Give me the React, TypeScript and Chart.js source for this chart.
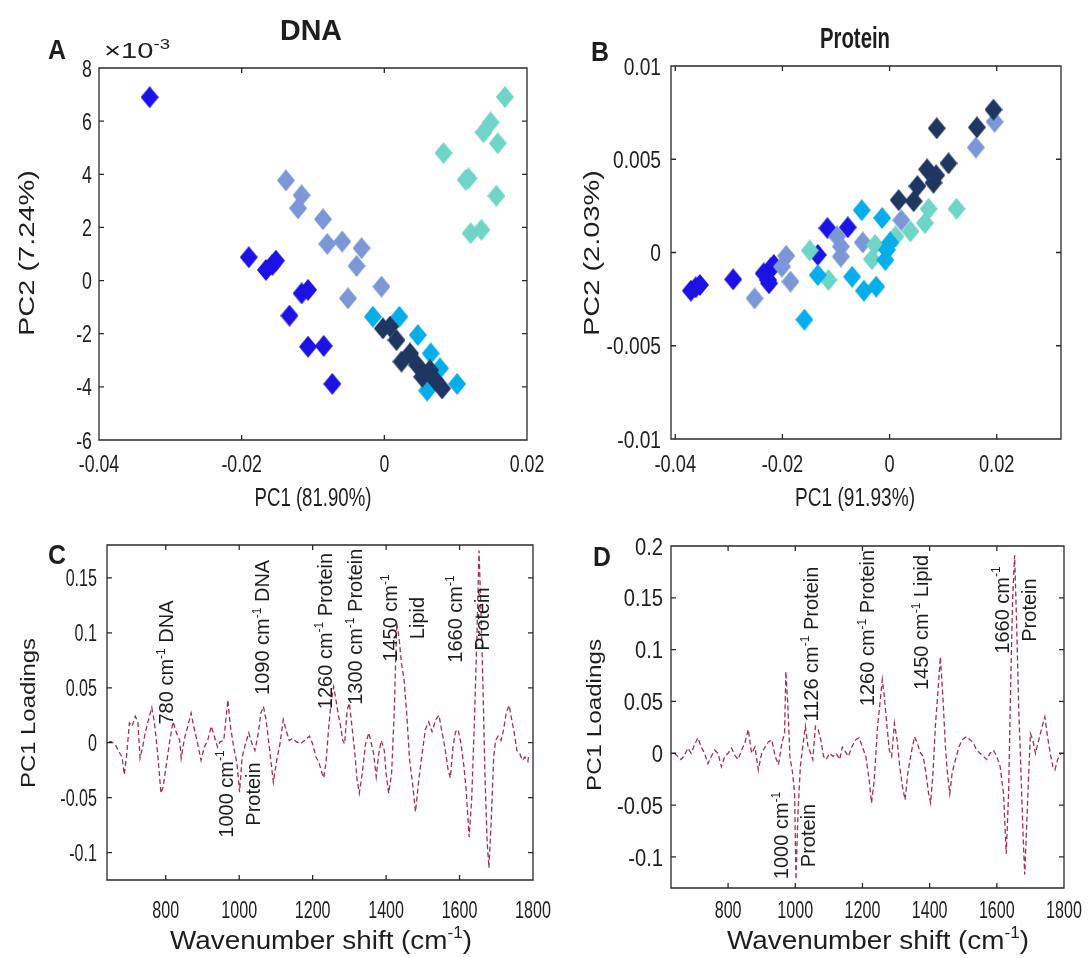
import React, { useEffect, useRef } from "react";
import { Chart, registerables } from "chart.js";

Chart.register(...registerables);

// ---------------- DATA ----------------
// Panel A (DNA): PCA scores [PC1, PC2 (x1e-3)]
const dnaBlue: [number, number][] = [
  [-0.0329, 6.9], [-0.019, 0.88], [-0.0166, 0.4], [-0.0157, 0.59], [-0.0152, 0.75],
  [-0.0116, -0.48], [-0.0107, -0.35], [-0.0133, -1.32], [-0.0107, -2.49], [-0.0085, -2.46], [-0.0073, -3.89],
];
const dnaSlate: [number, number][] = [
  [-0.0138, 3.77], [-0.0116, 3.21], [-0.0121, 2.72], [-0.0086, 2.31], [-0.008, 1.38],
  [-0.0059, 1.47], [-0.0032, 1.22], [-0.0039, 0.55], [-0.0051, -0.67], [-0.0004, -0.23],
];
const dnaAqua: [number, number][] = [
  [0.0169, 6.91], [0.0149, 5.95], [0.0139, 5.58], [0.0159, 5.17], [0.0083, 4.8],
  [0.0118, 3.85], [0.0114, 3.79], [0.0157, 3.19], [0.0121, 1.78], [0.0136, 1.91],
];
const dnaSky: [number, number][] = [
  [-0.0016, -1.36], [0.0021, -1.36], [0.0047, -2.05], [0.0065, -2.74], [0.0078, -3.3],
  [0.0102, -3.89], [0.006, -4.14],
];
const dnaNavy: [number, number][] = [
  [-0.0002, -1.8], [0.0008, -1.73], [0.0017, -2.24], [0.0024, -3.05], [0.0036, -2.74],
  [0.0046, -3.18], [0.0053, -3.62], [0.0064, -3.37], [0.0071, -3.74], [0.0081, -4.06],
];

// Panel B (Protein): PCA scores [PC1, PC2]
const protBlue: [number, number][] = [
  [-0.0371, -0.00205], [-0.0362, -0.00187], [-0.0354, -0.00174], [-0.0292, -0.00144], [-0.0235, -0.00112],
  [-0.0227, -0.00147], [-0.0222, -0.00085], [-0.0216, -0.00067], [-0.0225, -0.00165], [-0.0116, 0.00131],
  [-0.0078, 0.00135], [-0.0134, -0.00013],
];
const protSlate: [number, number][] = [
  [-0.0252, -0.00246], [-0.0193, -0.00018], [-0.0201, -0.00076], [-0.0185, -0.00156], [-0.0098, 0.00086],
  [-0.0091, 0.00032], [-0.0091, -0.00022], [-0.005, 0.00054], [0.0022, 0.00173], [0.0161, 0.00563], [0.0196, 0.00701],
];
const protAqua: [number, number][] = [
  [-0.0149, 0.00011], [-0.0114, -0.00147], [-0.0033, -0.00036], [-0.0027, 0.00041], [0.0011, 0.00086],
  [0.0039, 0.00113], [0.0066, 0.00158], [0.0073, 0.00234], [0.0125, 0.00234],
];
const protSky: [number, number][] = [
  [-0.0134, -0.00121], [-0.0159, -0.0036], [-0.007, -0.0013], [-0.0048, -0.00205], [-0.0025, -0.00183],
  [-0.0052, 0.00227], [-0.0014, 0.00185], [-0.0008, -0.0004], [-0.0005, 0.00014], [0.0001, 0.00054],
];
const protNavy: [number, number][] = [
  [0.0017, 0.00281], [0.0045, 0.00275], [0.0052, 0.00356], [0.007, 0.00446], [0.0082, 0.00374],
  [0.0087, 0.00414], [0.0088, 0.00666], [0.011, 0.00478], [0.0163, 0.00671], [0.0194, 0.00766],
];

// Panel C (DNA): PC1 loadings [wavenumber, loading]
const dnaLoadings: [number, number][] = [
  [645, 0.001], [652, 0.001], [663, -0.002], [672, -0.008], [681, -0.013], [687, -0.029], [694, -0.01],
  [701, 0.018], [708, 0.015], [717, 0.024], [724, 0.019], [730, -0.014], [737, -0.004], [744, 0.009],
  [753, 0.021], [762, 0.032], [769, 0.019], [778, -0.01], [787, -0.046], [793, -0.04], [802, -0.019],
  [811, 0.002], [820, 0.019], [829, 0.009], [838, 0.002], [842, -0.014], [851, 0.004], [860, 0.015],
  [869, 0.027], [876, 0.015], [885, 0.002], [896, -0.016], [905, -0.004], [914, 0.002], [924, 0.015],
  [932, 0.006], [941, -0.004], [948, 0.001], [958, 0.002], [969, 0.039], [976, 0.015], [985, -0.004],
  [994, -0.019], [1001, -0.045], [1008, -0.013], [1017, -0.001], [1026, 0.009], [1035, -0.001],
  [1043, -0.007], [1052, 0.009], [1059, 0.027], [1066, 0.033], [1073, 0.021], [1082, -0.004],
  [1093, -0.036], [1102, -0.016], [1111, -0.001], [1120, 0.021], [1127, 0.012], [1136, 0.002],
  [1146, 0.004], [1155, 0.001], [1166, -0.001], [1178, 0.002], [1191, 0.006], [1200, -0.001],
  [1209, -0.013], [1216, -0.017], [1226, -0.028], [1230, -0.032], [1236, -0.019], [1244, 0.015],
  [1251, 0.039], [1257, 0.051], [1262, 0.042], [1269, 0.027], [1276, 0.015], [1282, 0.002],
  [1287, -0.001], [1294, 0.03], [1300, 0.036], [1307, 0.015], [1315, -0.01], [1321, -0.034],
  [1327, -0.046], [1335, -0.028], [1344, -0.001], [1353, 0.009], [1360, -0.001], [1366, -0.01],
  [1373, -0.031], [1380, -0.01], [1387, 0.002], [1395, -0.007], [1400, -0.028], [1407, -0.046],
  [1415, -0.028], [1422, 0.027], [1429, 0.109], [1435, 0.096], [1442, 0.072], [1449, 0.057],
  [1456, 0.027], [1464, -0.016], [1473, -0.04], [1480, -0.063], [1489, -0.034], [1498, -0.01],
  [1507, 0.012], [1516, 0.019], [1525, 0.01], [1535, 0.021], [1544, 0.025], [1551, 0.012],
  [1560, -0.004], [1569, -0.025], [1575, -0.032], [1582, -0.004], [1589, 0.01], [1596, 0.012],
  [1604, -0.001], [1612, -0.022], [1618, -0.043], [1626, -0.086], [1633, -0.052], [1640, 0.015],
  [1647, 0.093], [1653, 0.175], [1658, 0.124], [1664, 0.048], [1669, -0.028], [1675, -0.089],
  [1680, -0.114], [1686, -0.073], [1693, -0.013], [1698, 0.002], [1705, 0.006], [1713, 0.002],
  [1720, 0.012], [1727, 0.027], [1735, 0.034], [1742, 0.021], [1749, 0.009], [1756, -0.007],
  [1764, -0.01], [1771, -0.016], [1778, -0.013], [1786, -0.017], [1789, -0.01],
];

// Panel D (Protein): PC1 loadings [wavenumber, loading]
const protLoadings: [number, number][] = [
  [640, 0], [650, -0.003], [660, -0.006], [670, -0.002], [680, 0.005], [690, 0], [700, 0.008],
  [710, 0.015], [720, 0.006], [730, 0], [740, -0.01], [750, -0.003], [760, 0.003], [770, 0],
  [780, -0.013], [790, -0.003], [800, 0], [810, 0.005], [820, -0.002], [830, -0.006], [840, 0.003],
  [850, 0.01], [860, 0.023], [870, 0], [880, 0.006], [890, -0.016], [900, 0], [910, 0.006],
  [920, 0.011], [930, 0.013], [940, -0.003], [950, -0.011], [960, 0.01], [968, 0.019], [972, 0.079],
  [978, 0.045], [984, -0.003], [992, -0.019], [998, -0.039], [1002, -0.122], [1008, -0.058],
  [1015, -0.013], [1022, 0.006], [1030, 0.026], [1038, 0.006], [1046, 0], [1052, -0.006],
  [1060, 0.026], [1068, 0.023], [1076, 0.013], [1084, -0.003], [1092, -0.006], [1102, 0],
  [1112, -0.003], [1122, 0], [1132, -0.006], [1140, 0.006], [1148, 0.002], [1158, -0.003],
  [1168, 0.006], [1180, 0.013], [1190, 0.015], [1200, 0.006], [1210, -0.003], [1220, -0.026],
  [1227, -0.048], [1235, -0.026], [1245, 0.026], [1253, 0.051], [1259, 0.071], [1265, 0.055],
  [1273, 0.026], [1280, 0.003], [1287, -0.003], [1295, 0.029], [1303, 0.013], [1311, -0.013],
  [1319, -0.032], [1327, -0.045], [1335, -0.019], [1345, 0], [1355, 0.016], [1363, 0.01],
  [1373, 0], [1381, -0.003], [1389, -0.019], [1397, -0.039], [1403, -0.048], [1410, -0.019],
  [1417, 0.026], [1425, 0.061], [1432, 0.093], [1440, 0.051], [1447, 0.006], [1453, -0.019],
  [1460, -0.039], [1467, -0.019], [1477, -0.006], [1487, 0.006], [1497, 0.013], [1510, 0.016],
  [1520, 0.013], [1530, 0.01], [1540, 0.003], [1550, 0], [1560, -0.003], [1570, -0.006],
  [1580, 0], [1590, 0.003], [1600, -0.003], [1610, -0.013], [1620, -0.039], [1628, -0.097],
  [1635, -0.039], [1642, 0.077], [1647, 0.148], [1653, 0.191], [1659, 0.125], [1665, 0.045],
  [1672, -0.019], [1678, -0.077], [1683, -0.117], [1689, -0.068], [1695, -0.019], [1700, 0.019],
  [1707, 0.013], [1715, 0], [1725, 0.013], [1735, 0.026], [1743, 0.035], [1751, 0.016],
  [1759, 0], [1767, -0.013], [1773, -0.016], [1781, -0.006], [1791, 0],
];

// Peak annotations ("^" toggles superscript, "|" starts a new line)
const dnaPeakText = [
  "780 cm^-1^ DNA", "1000 cm^-1^|Protein", "1090 cm^-1^ DNA", "1260 cm^-1^ Protein",
  "1300 cm^-1^ Protein", "1450 cm^-1^|Lipid", "1660 cm^-1^|Protein",
];
const dnaPeakWn = [800, 999, 1062, 1232, 1315, 1447, 1625];
const dnaPeakLoad = [0.073, -0.0467, 0.105, 0.1017, 0.1056, 0.1135, 0.1126];

const protPeakText = [
  "1000 cm^-1^|Protein", "1126 cm^-1^ Protein", "1260 cm^-1^ Protein", "1450 cm^-1^ Lipid", "1660 cm^-1^|Protein",
];
const protPeakWn = [998, 1045, 1213, 1374, 1654];
const protPeakLoad = [-0.0793, 0.1054, 0.1209, 0.1262, 0.1382];

// Tick values
const pcaXTicks = [-0.04, -0.02, 0, 0.02];
const dnaPcYTicks = [-6, -4, -2, 0, 2, 4, 6, 8];
const protPcYTicks = [-0.01, -0.005, 0, 0.005, 0.01];
const wnTicks = [800, 1000, 1200, 1400, 1600, 1800];
const dnaLoadTicks = [-0.1, -0.05, 0, 0.05, 0.1, 0.15];
const protLoadTicks = [-0.1, -0.05, 0, 0.05, 0.1, 0.15, 0.2];

// ---------------- STYLE ----------------
const W = 1090;
const H = 958;
const SANS = '"Liberation Sans", Arial, Helvetica, sans-serif';
const INK = "#1e1e1e";
const AXIS = "#2a2a2a";
const LINE_COLOR = "#a1304f";
const COLORS = {
  blue: "#1c12e6",
  slate: "#7b97d6",
  aqua: "#6fd5c7",
  sky: "#05aeea",
  navy: "#1f3660",
};

type Seg = { t: string; sup: boolean };
function parseSegs(s: string): Seg[] {
  return s
    .split("^")
    .map((t, i) => ({ t, sup: i % 2 === 1 }))
    .filter((g) => g.t.length > 0);
}

type TextSpec = {
  text: string;
  cx: number;
  cy: number;
  size: number;
  bold?: boolean;
  width?: number;
  sx?: number;
  align?: "center" | "right";
  rotate?: boolean;
  thick?: number;
};

function drawText(ctx: CanvasRenderingContext2D, s: TextSpec) {
  const segs = parseSegs(s.text);
  const fontFor = (sup: boolean) => `${s.bold ? "bold " : ""}${sup ? Math.round(s.size * 0.62) : s.size}px ${SANS}`;
  const widths = segs.map((g) => {
    ctx.font = fontFor(g.sup);
    return ctx.measureText(g.t).width;
  });
  const total = widths.reduce((a, b) => a + b, 0);
  ctx.save();
  ctx.translate(s.cx, s.cy);
  if (s.rotate) ctx.rotate(-Math.PI / 2);
  ctx.scale(s.width ? s.width / total : s.sx ?? 1, s.thick ?? 1);
  ctx.fillStyle = INK;
  ctx.textAlign = "left";
  ctx.textBaseline = "alphabetic";
  let x = s.align === "right" ? -total : -total / 2;
  const base = s.size * 0.36;
  segs.forEach((g, i) => {
    ctx.font = fontFor(g.sup);
    ctx.fillText(g.t, x, g.sup ? base - s.size * 0.42 : base);
    x += widths[i];
  });
  ctx.restore();
}

type Peak = { text: string; wn: number; v: number };
type TickStyle = { size: number; sx: number; off: number };

function makeDecor(
  texts: TextSpec[],
  xTick: TickStyle,
  yTick: TickStyle,
  peaks: Peak[] = [],
  peakSize = 20,
  gap = 27
) {
  return {
    id: "decor",
    afterDraw(chart: any) {
      const { ctx, chartArea: a, scales } = chart;
      const xs = scales.x;
      const ys = scales.y;
      ctx.save();
      // axes box with inward ticks
      ctx.strokeStyle = AXIS;
      ctx.lineWidth = 1.3;
      ctx.beginPath();
      ctx.rect(a.left, a.top, a.right - a.left, a.bottom - a.top);
      const tl = 5;
      xs.ticks.forEach((t: any) => {
        const p = xs.getPixelForValue(t.value);
        ctx.moveTo(p, a.bottom);
        ctx.lineTo(p, a.bottom - tl);
        ctx.moveTo(p, a.top);
        ctx.lineTo(p, a.top + tl);
      });
      ys.ticks.forEach((t: any) => {
        const p = ys.getPixelForValue(t.value);
        ctx.moveTo(a.left, p);
        ctx.lineTo(a.left + tl, p);
        ctx.moveTo(a.right, p);
        ctx.lineTo(a.right - tl, p);
      });
      ctx.stroke();
      // tick labels (condensed, from the scales' own ticks)
      xs.ticks.forEach((t: any) => {
        drawText(ctx, {
          text: String(Number(t.value)),
          cx: xs.getPixelForValue(t.value),
          cy: a.bottom + xTick.off,
          size: xTick.size,
          sx: xTick.sx,
        });
      });
      ys.ticks.forEach((t: any) => {
        drawText(ctx, {
          text: String(Number(t.value)),
          cx: a.left - yTick.off,
          cy: ys.getPixelForValue(t.value),
          size: yTick.size,
          sx: yTick.sx,
          align: "right",
        });
      });
      texts.forEach((s) => drawText(ctx, s));
      peaks.forEach((pk) => {
        const lines = pk.text.split("|");
        const px = xs.getPixelForValue(pk.wn);
        const py = ys.getPixelForValue(pk.v);
        lines.forEach((ln, i) => {
          drawText(ctx, {
            text: ln,
            cx: px + (i - (lines.length - 1) / 2) * gap,
            cy: py,
            size: peakSize,
            rotate: true,
          });
        });
      });
      ctx.restore();
    },
  };
}

function diamond(color: string, w = 18, h = 22) {
  const c = document.createElement("canvas");
  c.width = w;
  c.height = h;
  const g = c.getContext("2d")!;
  g.fillStyle = color;
  g.beginPath();
  g.moveTo(w / 2, 0);
  g.lineTo(w, h / 2);
  g.lineTo(w / 2, h);
  g.lineTo(0, h / 2);
  g.closePath();
  g.fill();
  return c;
}

type Box = { left: number; right: number; top: number; bottom: number };

function axis(min: number, max: number, ticks: number[], extent: number, isX: boolean) {
  return {
    type: "linear",
    min,
    max,
    grid: { display: false, drawTicks: false },
    border: { display: false },
    ticks: {
      display: false,
      autoSkip: false,
      callback: (v: any) => String(Number(v)),
    },
    afterBuildTicks: (s: any) => {
      s.ticks = ticks.map((value) => ({ value }));
    },
    afterFit: (s: any) => {
      if (isX) s.height = extent;
      else s.width = extent;
    },
  };
}

function layoutFor(b: Box, yW: number, xH: number) {
  return {
    padding: {
      left: b.left - yW,
      right: W - b.right,
      top: b.top,
      bottom: H - b.bottom - xH,
    },
  };
}

const baseOptions = {
  responsive: false,
  maintainAspectRatio: false,
  animation: false,
  devicePixelRatio: 1,
  events: [] as string[],
  plugins: { legend: { display: false }, tooltip: { enabled: false }, title: { display: false } },
};

function scatterSets(groups: [number, number][][], colors: string[]) {
  return groups.map((g, i) => ({
    label: `group ${i + 1}`,
    data: g.map(([x, y]) => ({ x, y })),
    pointStyle: diamond(colors[i]),
    pointRadius: 9,
    backgroundColor: colors[i],
    borderWidth: 0,
  }));
}

function buildA() {
  const box: Box = { left: 99, right: 527, top: 68, bottom: 440 };
  return {
    type: "scatter",
    data: {
      datasets: scatterSets(
        [dnaNavy, dnaSky, dnaAqua, dnaSlate, dnaBlue],
        [COLORS.navy, COLORS.sky, COLORS.aqua, COLORS.slate, COLORS.blue]
      ),
    },
    options: {
      ...baseOptions,
      layout: layoutFor(box, 60, 40),
      scales: {
        x: axis(-0.04, 0.02, pcaXTicks, 40, true),
        y: axis(-6, 8, dnaPcYTicks, 60, false),
      },
    },
    plugins: [
      makeDecor(
        [
          { text: "A", cx: 57, cy: 49, size: 27, bold: true, width: 18 },
          { text: "DNA", cx: 311, cy: 29, size: 30, bold: true, width: 62 },
          { text: "×10^-3^", cx: 137, cy: 50, size: 22, width: 66 },
          { text: "PC2 (7.24%)", cx: 26, cy: 253, size: 28, rotate: true, width: 166, thick: 0.8 },
          { text: "PC1 (81.90%)", cx: 313, cy: 497, size: 26, width: 117 },
        ],
        { size: 24, sx: 0.74, off: 23 },
        { size: 24, sx: 0.74, off: 7 }
      ),
    ],
  };
}

function buildB() {
  const box: Box = { left: 671, right: 1061, top: 66, bottom: 439 };
  return {
    type: "scatter",
    data: {
      datasets: scatterSets(
        [protNavy, protSky, protAqua, protSlate, protBlue],
        [COLORS.navy, COLORS.sky, COLORS.aqua, COLORS.slate, COLORS.blue]
      ),
    },
    options: {
      ...baseOptions,
      layout: layoutFor(box, 70, 40),
      scales: {
        x: axis(-0.0408, 0.032, pcaXTicks, 40, true),
        y: axis(-0.01, 0.01, protPcYTicks, 70, false),
      },
    },
    plugins: [
      makeDecor(
        [
          { text: "B", cx: 600, cy: 51, size: 27, bold: true, width: 18 },
          { text: "Protein", cx: 855, cy: 37, size: 30, bold: true, width: 70 },
          { text: "PC2 (2.03%)", cx: 591, cy: 253, size: 28, rotate: true, width: 166, thick: 0.8 },
          { text: "PC1 (91.93%)", cx: 855, cy: 497, size: 26, width: 120 },
        ],
        { size: 24, sx: 0.76, off: 24 },
        { size: 24, sx: 0.8, off: 10 }
      ),
    ],
  };
}

function lineSet(points: [number, number][]) {
  return [
    {
      label: "PC1 loadings",
      data: points.map(([x, y]) => ({ x, y })),
      borderColor: LINE_COLOR,
      borderWidth: 1.3,
      borderDash: [5, 3],
      pointRadius: 0,
      tension: 0,
      fill: false,
    },
  ];
}

function buildC() {
  const box: Box = { left: 107, right: 533, top: 545, bottom: 880 };
  return {
    type: "line",
    data: { datasets: lineSet(dnaLoadings) },
    options: {
      ...baseOptions,
      layout: layoutFor(box, 60, 40),
      scales: {
        x: axis(640, 1800, wnTicks, 40, true),
        y: axis(-0.125, 0.18, dnaLoadTicks, 60, false),
      },
    },
    plugins: [
      makeDecor(
        [
          { text: "C", cx: 57, cy: 554, size: 27, bold: true, width: 18 },
          { text: "PC1 Loadings", cx: 28, cy: 713, size: 24, rotate: true, width: 150, thick: 0.85 },
          { text: "Wavenumber shift (cm^-1^)", cx: 321, cy: 940, size: 26, width: 302 },
        ],
        { size: 23, sx: 0.7, off: 30 },
        { size: 23, sx: 0.7, off: 10 },
        dnaPeakText.map((text, i) => ({ text, wn: dnaPeakWn[i], v: dnaPeakLoad[i] }))
      ),
    ],
  };
}

function buildD() {
  const box: Box = { left: 671, right: 1064, top: 546, bottom: 888 };
  return {
    type: "line",
    data: { datasets: lineSet(protLoadings) },
    options: {
      ...baseOptions,
      layout: layoutFor(box, 70, 40),
      scales: {
        x: axis(630, 1800, wnTicks, 40, true),
        y: axis(-0.13, 0.2, protLoadTicks, 70, false),
      },
    },
    plugins: [
      makeDecor(
        [
          { text: "D", cx: 602, cy: 556, size: 27, bold: true, width: 18 },
          { text: "PC1 Loadings", cx: 594, cy: 715, size: 24, rotate: true, width: 152, thick: 0.85 },
          { text: "Wavenumber shift (cm^-1^)", cx: 878, cy: 940, size: 26, width: 302 },
        ],
        { size: 23, sx: 0.7, off: 22 },
        { size: 24, sx: 0.84, off: 8 },
        protPeakText.map((text, i) => ({ text, wn: protPeakWn[i], v: protPeakLoad[i] }))
      ),
    ],
  };
}

function Panel({ build }: { build: () => any }) {
  const ref = useRef<HTMLCanvasElement>(null);
  useEffect(() => {
    const chart = new Chart(ref.current as HTMLCanvasElement, build());
    return () => chart.destroy();
  }, [build]);
  return (
    <canvas
      ref={ref}
      width={W}
      height={H}
      style={{ position: "absolute", left: 0, top: 0, width: W, height: H }}
    />
  );
}

export default function App() {
  return (
    <div style={{ position: "absolute", left: 0, top: 0, width: W, height: H, background: "#ffffff", overflow: "hidden" }}>
      <Panel build={buildA} />
      <Panel build={buildB} />
      <Panel build={buildC} />
      <Panel build={buildD} />
    </div>
  );
}
